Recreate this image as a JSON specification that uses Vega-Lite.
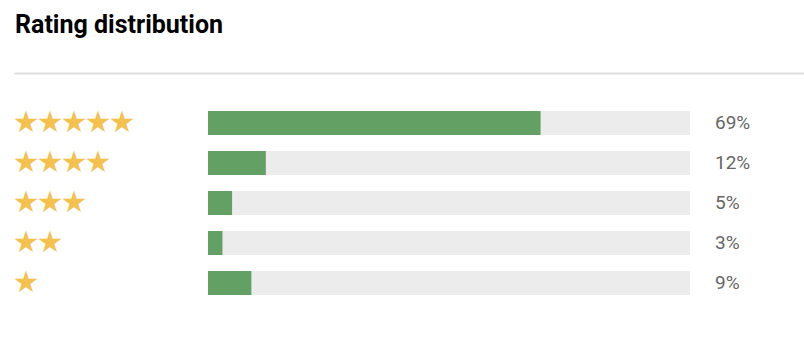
{
  "$schema": "https://vega.github.io/schema/vega-lite/v6.json",
  "width": 790,
  "height": 260,
  "autosize": {"type": "none"},
  "padding": {"left": 14, "top": 73, "right": 0, "bottom": 29},
  "background": "white",
  "title": {
    "text": "Rating distribution",
    "anchor": "start",
    "frame": "group",
    "font": "Roboto",
    "fontSize": 25,
    "fontWeight": "bold",
    "color": "#000000",
    "baseline": "alphabetic",
    "offset": 15,
    "dx": 1
  },
  "config": {"view": {"stroke": null}},
  "data": {
    "values": [
      {"rating": 5, "stars": "★★★★★", "pct": 69, "label": "69%"},
      {"rating": 4, "stars": "★★★★", "pct": 12, "label": "12%"},
      {"rating": 3, "stars": "★★★", "pct": 5, "label": "5%"},
      {"rating": 2, "stars": "★★", "pct": 3, "label": "3%"},
      {"rating": 1, "stars": "★", "pct": 9, "label": "9%"}
    ]
  },
  "encoding": {
    "y": {
      "field": "rating",
      "type": "ordinal",
      "sort": "descending",
      "scale": {"paddingInner": 0.4, "paddingOuter": 0.95},
      "axis": null
    }
  },
  "layer": [
    {
      "mark": {"type": "bar", "color": "#ececec"},
      "encoding": {
        "x": {
          "datum": 0,
          "type": "quantitative",
          "scale": {"domain": [-40.25, 123.65], "nice": false, "zero": false},
          "axis": {
            "orient": "top",
            "title": null,
            "labels": false,
            "ticks": false,
            "grid": false,
            "domain": true,
            "domainColor": "#dddddd",
            "domainWidth": 2
          }
        },
        "x2": {"datum": 100}
      }
    },
    {
      "mark": {"type": "bar", "color": "#62a063"},
      "encoding": {
        "x": {"field": "pct", "type": "quantitative"},
        "x2": {"datum": 0}
      }
    },
    {
      "mark": {"type": "text", "align": "left", "baseline": "middle", "dx": 25, "font": "Roboto", "fontSize": 19, "color": "#666666"},
      "encoding": {
        "x": {"datum": 100, "type": "quantitative"},
        "text": {"field": "label"}
      }
    },
    {
      "mark": {"type": "text", "align": "left", "baseline": "middle", "font": "Noto Sans CJK JP", "fontSize": 24, "color": "#f4c04e"},
      "encoding": {
        "x": {"datum": -40.25, "type": "quantitative"},
        "text": {"field": "stars"}
      }
    }
  ]
}
